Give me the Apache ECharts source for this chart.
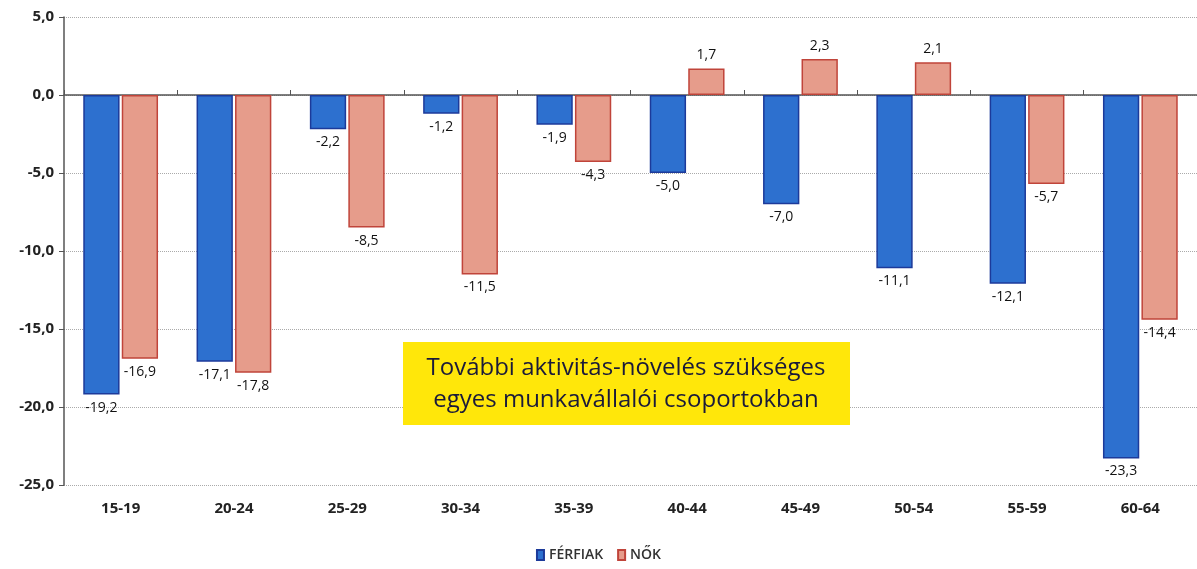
<!DOCTYPE html>
<html>
<head>
<meta charset="utf-8">
<script src="https://cdn.jsdelivr.net/npm/echarts@6/dist/echarts.min.js"></script>
<style>
html,body{margin:0;padding:0;background:#fff;}
#main{width:1197px;height:569px;}
</style>
</head>
<body>
<div id="main"></div>
<script>
// korcsoportok
var categories = ['15-19', '20-24', '25-29', '30-34', '35-39', '40-44', '45-49', '50-54', '55-59', '60-64'];
var ferfiak = [-19.2, -17.1, -2.2, -1.2, -1.9, -5.0, -7.0, -11.1, -12.1, -23.3];
var nok = [-16.9, -17.8, -8.5, -11.5, -4.3, 1.7, 2.3, 2.1, -5.7, -14.4];
var seriesNames = ['FÉRFIAK', 'NŐK'];

var myChart = echarts.init(document.getElementById('main'));

function fmt(p) {
	return p.value.toFixed(1).replace('.', ',');
}
function withLabels(arr) {
	return arr.map(function (v) {
		return {
			value: v,
			label: { position: v < 0 ? 'bottom' : 'top' }
		};
	});
}
var labelStyle = {
	show: true,
	formatter: fmt,
	fontFamily: 'Open Sans',
	fontSize: 14,
	fontWeight: 500,
	color: '#111',
	distance: 6
};

var option = {
	animation: false,
	grid: { left: 64, right: 0, top: 17, bottom: 84 },
	legend: {
		bottom: 2,
		left: 'center',
		icon: 'rect',
		itemWidth: 7,
		itemHeight: 10,
		itemGap: 14,
		textStyle: { fontFamily: 'Open Sans', fontSize: 14, fontWeight: 600, color: '#333' },
		data: seriesNames
	},
	xAxis: [{
		type: 'category',
		data: categories,
		position: 'bottom',
		axisLine: { show: false, onZero: false },
		axisTick: { show: false },
		axisLabel: { margin: 16, fontFamily: 'Open Sans', fontWeight: 'bold', fontSize: 15, color: '#222' }
	}, {
		type: 'category',
		data: categories,
		axisLine: { onZero: true, lineStyle: { color: '#555', width: 1.5 } },
		axisTick: { show: true, length: 5, lineStyle: { color: '#555' } },
		axisLabel: { show: false }
	}],
	yAxis: {
		type: 'value',
		min: -25,
		max: 5,
		interval: 5,
		axisLine: { show: true, lineStyle: { color: '#555', width: 1.5 } },
		axisTick: { show: true, length: 5, lineStyle: { color: '#555' } },
		axisLabel: {
			formatter: function (v) { return v.toFixed(1).replace('.', ','); },
			fontFamily: 'Open Sans', fontWeight: 'bold', fontSize: 15, color: '#222', margin: 10
		},
		splitLine: { lineStyle: { color: '#aaa', type: 'dotted' } }
	},
	series: [{
		name: seriesNames[0],
		type: 'bar',
		xAxisIndex: 0,
		barGap: '6%',
		barCategoryGap: '34%',
		data: withLabels(ferfiak),
		itemStyle: { color: '#2d70cf', borderColor: '#1c3a9a', borderWidth: 1.5 },
		label: labelStyle
	}, {
		name: seriesNames[1],
		type: 'bar',
		xAxisIndex: 0,
		data: withLabels(nok),
		itemStyle: { color: '#e69c8b', borderColor: '#c0443a', borderWidth: 1.5 },
		label: labelStyle
	}],
	graphic: [{
		type: 'rect',
		x: 403,
		y: 342,
		shape: { x: 0, y: 0, width: 447, height: 83 },
		style: { fill: '#ffe70a' },
		z: 10
	}, {
		type: 'text',
		x: 626,
		y: 384,
		z: 11,
		style: {
			text: 'További aktivitás-növelés szükséges\negyes munkavállalói csoportokban',
			fontFamily: 'Open Sans',
			fontSize: 24,
			lineHeight: 32,
			fill: '#1a1a3a',
			align: 'center',
			verticalAlign: 'middle'
		}
	}]
};

myChart.setOption(option);
</script>
</body>
</html>
